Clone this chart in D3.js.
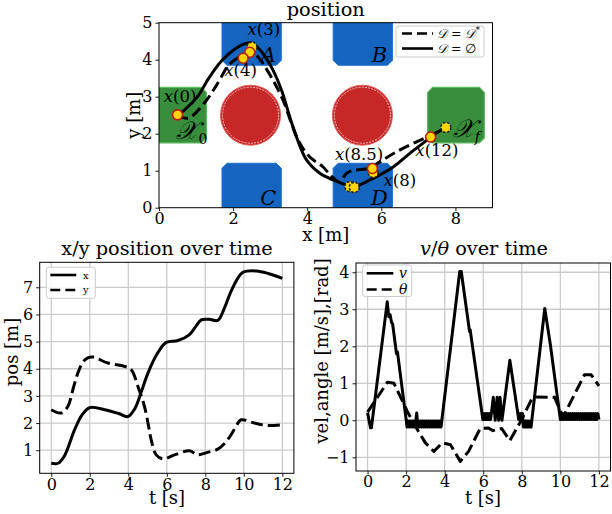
<!DOCTYPE html>
<html><head><meta charset="utf-8">
<script src="https://cdn.jsdelivr.net/npm/d3@7/dist/d3.min.js"></script>
<style>
body{margin:0;background:#fff}
svg{display:block}
text{font-family:"DejaVu Serif",serif;fill:#000}
</style>
</head><body>
<script>
// ---------------- DATA ----------------
// top plot: obstacles and goal regions (data units, m)
const blueRegions = [
  {name:"A", x0:1.7, x1:3.3, y0:3.85, y1:5.3},
  {name:"B", x0:4.7, x1:6.3, y0:3.85, y1:5.3},
  {name:"C", x0:1.7, x1:3.3, y0:-0.3, y1:1.2},
  {name:"D", x0:4.7, x1:6.3, y0:-0.3, y1:1.2}
];
const greenRegions = [
  {name:"X0", x0:-0.3, x1:1.28, y0:1.75, y1:3.25},
  {name:"Xf", x0:7.25, x1:8.78, y0:1.75, y1:3.25}
];
const redCircles = [{cx:2.47, cy:2.5, r:0.81}, {cx:5.49, cy:2.5, r:0.81}];

// trajectories
const trajEmpty = [ // D = ∅ (solid)
  [0.5,2.5],[0.7,2.65],[1.06,3.03],[1.33,3.48],[1.69,3.97],[2.05,4.29],[2.35,4.44],[2.52,4.45],
  [2.81,4.16],[3.08,3.71],[3.31,3.17],[3.53,2.45],[3.71,1.91],[3.98,1.29],[4.34,0.93],[4.7,0.75],
  [5.06,0.61],[5.22,0.56],[5.51,0.66],[5.87,0.84],[6.32,1.1],[6.77,1.47],[7.22,1.82],[7.33,1.92],[7.75,2.17]
];
const trajStar = [ // D = D* (dashed)
  [0.5,2.5],[0.79,2.42],[1.24,2.85],[1.6,3.39],[1.87,3.84],[2.14,4.06],[2.32,4.14],[2.5,4.22],
  [2.65,4.1],[2.81,3.89],[3.08,3.44],[3.35,2.9],[3.58,2.27],[3.8,1.74],[4.07,1.37],[4.43,1.1],
  [4.64,0.86],[4.86,0.7],[4.96,0.8],[5.06,0.93],[5.2,1.0],[5.42,1.03],[5.73,1.08],[5.9,1.2],
  [6.41,1.51],[6.95,1.78],[7.33,1.95],[7.75,2.18]
];
const markers = [
  {x:0.5, y:2.51, edge:"solid"}, {x:2.51, y:4.34, edge:"dashed"}, {x:2.45, y:4.2, edge:"solid"},
  {x:2.27, y:4.04, edge:"solid"}, {x:5.15, y:0.57, edge:"dashed"}, {x:5.27, y:0.55, edge:"dashed"},
  {x:5.78, y:0.95, edge:"dashed"}, {x:5.76, y:1.06, edge:"solid"}, {x:7.33, y:1.91, edge:"solid"},
  {x:7.74, y:2.17, edge:"dashed"}
];
const timeLabels = [
  {t:"0", x:0.57, y:2.85}, {t:"3", x:2.83, y:4.67}, {t:"4", x:2.2, y:3.56},
  {t:"8.5", x:5.4, y:1.28}, {t:"8", x:6.5, y:0.6}, {t:"12", x:7.5, y:1.4}
];
const topXTicks = [0,2,4,6,8];
const topYTicks = [0,1,2,3,4,5];

// bottom-left: x/y position over time
const xPos = [[0,0.52],[0.35,0.52],[0.69,0.8],[1.21,1.75],[1.6,2.3],[2.0,2.57],[2.77,2.49],[3.5,2.35],[3.98,2.24],
  [4.33,2.52],[4.7,3.2],[5.02,3.84],[5.5,4.55],[5.97,4.97],[6.58,5.04],[7.18,5.26],[7.5,5.55],[7.79,5.8],[8.2,5.82],
  [8.65,5.78],[9.0,6.25],[9.34,6.86],[9.7,7.35],[9.95,7.55],[10.66,7.6],[11.3,7.5],[12.0,7.33]];
const yPos = [[0,2.49],[0.52,2.37],[0.86,2.61],[1.15,3.3],[1.38,3.84],[1.65,4.25],[1.9,4.4],[2.16,4.43],[2.94,4.21],
  [3.8,4.09],[4.15,3.97],[4.5,3.35],[4.84,2.61],[5.05,1.9],[5.19,1.38],[5.45,0.83],[5.8,0.68],[6.4,0.83],[7.18,0.98],
  [7.6,0.83],[8.1,0.92],[8.65,1.04],[9.0,1.25],[9.34,1.57],[9.65,1.95],[9.86,2.12],[10.55,2.0],[11.25,1.91],[12.0,1.94]];
const leftXTicks = [0,2,4,6,8,10,12];
const leftYTicks = [1,2,3,4,5,6,7];

// bottom-right: v / theta over time (v chatters between ~0 and ±0.18 while stopped)
const vel = [[0,0.2],[0.15,-0.2],[0.2,-0.2],[1.02,3.2],[1.1,2.8],[1.17,2.85],[1.24,2.65],[1.3,2.6],[1.45,2.0],[1.5,1.8],[1.55,1.85],
  [2.01,-0.02],[2.05,-0.18],[2.1,-0.02],[2.15,-0.18],[2.2,-0.02],[2.25,-0.18],[2.3,-0.02],[2.35,-0.18],[2.4,-0.02],[2.45,-0.18],
  [2.5,-0.02],[2.55,0.2],[2.6,-0.18],[2.65,-0.02],[2.7,-0.18],[2.75,-0.02],[2.8,-0.18],[2.85,-0.02],[2.9,-0.18],[2.95,-0.02],
  [3.0,-0.18],[3.05,-0.02],[3.1,-0.18],[3.15,-0.02],[3.2,-0.18],[3.25,-0.02],[3.3,-0.18],[3.35,-0.02],[3.4,-0.18],[3.45,-0.02],
  [3.5,-0.18],[3.55,-0.02],[3.6,-0.18],[3.65,-0.02],[3.7,-0.18],[3.75,-0.02],[3.81,-0.18],
  [4.78,4.02],[4.86,4.02],[5.24,2.58],[5.29,2.4],[5.32,2.45],[5.98,0.02],
  [6.02,0.18],[6.06,0.02],[6.1,0.18],[6.14,0.02],[6.18,0.18],[6.22,0.02],[6.26,0.18],[6.3,0.02],[6.34,0.18],[6.38,0.02],[6.42,0.18],
  [6.52,0.62],[6.62,0],[6.72,0.62],[6.8,0],[6.87,0.62],[6.97,0],[7.38,1.62],[7.84,0.02],
  [7.88,0.18],[7.92,0.02],[7.96,0.18],[8.0,0.02],[8.04,0.18],[8.08,-0.18],[8.12,-0.02],[8.16,-0.18],[8.2,-0.02],[8.24,-0.18],
  [8.28,-0.02],[8.32,-0.18],[8.36,-0.02],[8.4,-0.18],[8.44,-0.02],[8.48,-0.18],[8.52,0],
  [9.19,3.02],[9.48,2.05],[9.53,1.85],[10.0,0.02],
  [10.05,0.18],[10.1,0.02],[10.15,0.18],[10.2,0.02],[10.25,0.18],[10.3,0.02],[10.35,0.18],[10.4,0.02],[10.45,0.18],[10.5,0.02],
  [10.55,0.18],[10.6,0.02],[10.65,0.18],[10.7,0.02],[10.75,0.18],[10.8,0.02],[10.85,0.18],[10.9,0.02],[10.95,0.18],[11.0,0.02],
  [11.05,0.18],[11.1,0.02],[11.15,0.18],[11.2,0.02],[11.25,0.18],[11.3,0.02],[11.35,0.18],[11.4,0.02],[11.45,0.18],[11.5,0.02],
  [11.55,0.18],[11.6,0.02],[11.65,0.18],[11.7,0.02],[11.75,0.18],[11.8,0.02],[11.85,0.18],[11.9,0.02],[11.95,0.18],[12.0,0.02]];
const theta = [[0,0.22],[1.03,1.03],[1.37,1.0],[2.06,0.24],[2.58,-0.25],[3.0,-0.61],[3.44,-0.84],[3.87,-0.61],[4.3,-0.66],
  [4.81,-1.11],[5.24,-0.84],[5.84,-0.22],[6.27,-0.21],[6.5,-0.28],[6.79,-0.24],[6.95,-0.22],[7.38,-0.55],[7.95,-0.02],
  [8.5,0.56],[8.7,0.63],[9.7,0.62],[10.05,0.2],[10.15,0.1],[11.25,1.23],[11.6,1.23],[12.0,0.93]];
const rightXTicks = [0,2,4,6,8,10,12];
const rightYTicks = [-1,0,1,2,3,4];

// ---------------- DRAW ----------------
const W = 612, H = 514;
const svg = d3.select("body").append("svg").attr("width", W).attr("height", H);
const TICKFS = 16, LABFS = 18, TITLEFS = 19.3;

function styleAxis(g){
  g.select(".domain").remove();
  g.selectAll(".tick line").attr("stroke","#000").attr("stroke-width",0.9);
  g.selectAll(".tick text").style("font-size",TICKFS+"px").style("font-family",'"DejaVu Serif",serif').attr("fill","#000");
}

// ===== Top plot =====
const tx = d3.scaleLinear().domain([0,9]).range([159,492.5]);
const ty = d3.scaleLinear().domain([0,5]).range([207.7,22.7]);
svg.append("clipPath").attr("id","clipTop").append("rect")
  .attr("x",tx(0)).attr("y",ty(5)).attr("width",tx(9)-tx(0)).attr("height",ty(0)-ty(5));
const topG = svg.append("g");
const topPlot = topG.append("g").attr("clip-path","url(#clipTop)");

function chamferPath(d, c){
  const x0 = tx(d.x0), x1 = tx(d.x1), y0 = ty(d.y1), y1 = ty(d.y0);
  return `M${x0+c},${y0}L${x1-c},${y0}L${x1},${y0+c}L${x1},${y1-c}L${x1-c},${y1}L${x0+c},${y1}L${x0},${y1-c}L${x0},${y0+c}Z`;
}
topPlot.selectAll(".blue").data(blueRegions).join("path")
  .attr("d", d => chamferPath(d, 5)).attr("fill","#1565c0").attr("stroke","#1e6fd0").attr("stroke-width",1);
topPlot.selectAll(".green").data(greenRegions).join("path")
  .attr("d", d => chamferPath(d, 5)).attr("fill","#388e3c").attr("stroke","#5cb860").attr("stroke-width",1.2);
topPlot.selectAll(".red").data(redCircles).join("circle")
  .attr("cx", d => tx(d.cx)).attr("cy", d => ty(d.cy)).attr("r", d => tx(d.r) - tx(0))
  .attr("fill","#c62828").attr("stroke","#e06060").attr("stroke-width",1);
topPlot.selectAll(".redring").data(redCircles).join("circle")
  .attr("cx", d => tx(d.cx)).attr("cy", d => ty(d.cy)).attr("r", d => tx(d.r) - tx(0) - 2)
  .attr("fill","none").attr("stroke","#fff").attr("stroke-width",0.8).attr("stroke-dasharray","2,1.2").attr("opacity",0.85);

const lineTop = d3.line().x(d => tx(d[0])).y(d => ty(d[1])).curve(d3.curveCatmullRom.alpha(0.5));
topPlot.append("path").attr("d", lineTop(trajEmpty)).attr("fill","none").attr("stroke","#000").attr("stroke-width",3);
topPlot.append("path").attr("d", lineTop(trajStar)).attr("fill","none").attr("stroke","#000").attr("stroke-width",3)
  .attr("stroke-dasharray","11,5");

topPlot.selectAll(".mk").data(markers).join("circle")
  .attr("cx", d => tx(d.x)).attr("cy", d => ty(d.y)).attr("r",5)
  .attr("fill","#ffd600")
  .attr("stroke", d => d.edge === "solid" ? "#b71c1c" : "#222")
  .attr("stroke-width", 1.6)
  .attr("stroke-dasharray", d => d.edge === "solid" ? null : "2.5,1.5");

// region labels
blueRegions.forEach(d => {
  const lx = d.name === "A" || d.name === "C" ? 2.95 : 5.95;
  const ly = d.y0 > 2 ? 3.88 : 0.02;
  topG.append("text").attr("x", tx(lx)).attr("y", ty(ly) - 2).attr("text-anchor","middle")
    .style("font-size","21px").style("font-style","italic").text(d.name);
});
function calX(x, y, sub){
  const t = topG.append("text").attr("x", tx(x)).attr("y", ty(y)).style("font-size","25px");
  t.append("tspan").style("font-style","italic").text("𝒳");
  t.append("tspan").attr("dy",5).style("font-size","14px").style("font-style", sub === "f" ? "italic" : "normal").text(sub);
}
calX(0.47, 1.85, "0");
calX(7.93, 1.9, "f");
timeLabels.forEach(d => {
  const t = topG.append("text").attr("x", tx(d.x)).attr("y", ty(d.y)).attr("text-anchor","middle").style("font-size","16.5px");
  t.append("tspan").style("font-style","italic").text("x");
  t.append("tspan").text("(" + d.t + ")");
});

// frame and axes
topG.append("rect").attr("x",tx(0)).attr("y",ty(5)).attr("width",tx(9)-tx(0)).attr("height",ty(0)-ty(5))
  .attr("fill","none").attr("stroke","#000").attr("stroke-width",1);
topG.append("g").attr("transform",`translate(0,${ty(0)})`)
  .call(d3.axisBottom(tx).tickValues(topXTicks).tickSize(3.5).tickPadding(1.5).tickFormat(d3.format("d"))).call(styleAxis);
topG.append("g").attr("transform",`translate(${tx(0)},0)`)
  .call(d3.axisLeft(ty).tickValues(topYTicks).tickSize(3.5).tickPadding(3).tickFormat(d3.format("d"))).call(styleAxis);
topG.append("text").attr("x",(tx(0)+tx(9))/2).attr("y",15.5).attr("text-anchor","middle").style("font-size",TITLEFS+"px").text("position");
topG.append("text").attr("x",(tx(0)+tx(9))/2).attr("y",240.5).attr("text-anchor","middle").style("font-size",LABFS+"px").text("x [m]");
topG.append("text").attr("transform",`translate(140,${(ty(0)+ty(5))/2}) rotate(-90)`).attr("text-anchor","middle")
  .style("font-size",LABFS+"px").text("y [m]");

// top legend
const lg = topG.append("g");
lg.append("rect").attr("x",396).attr("y",26).attr("width",88).attr("height",31).attr("rx",2.5)
  .attr("fill","#fff").attr("fill-opacity",0.85).attr("stroke","#cccccc").attr("stroke-width",1);
lg.append("line").attr("x1",402).attr("x2",433).attr("y1",33.5).attr("y2",33.5).attr("stroke","#000").attr("stroke-width",2.6).attr("stroke-dasharray","10,5");
lg.append("line").attr("x1",402).attr("x2",433).attr("y1",48.5).attr("y2",48.5).attr("stroke","#000").attr("stroke-width",2.6);
const lt1 = lg.append("text").attr("x",437).attr("y",38).style("font-size","12.5px");
lt1.append("tspan").style("font-style","italic").text("𝒟");
lt1.append("tspan").text(" = ");
lt1.append("tspan").style("font-style","italic").text("𝒟");
lt1.append("tspan").attr("dy",-5).style("font-size","9px").text("*");
const lt2 = lg.append("text").attr("x",437).attr("y",53).style("font-size","12.5px");
lt2.append("tspan").style("font-style","italic").text("𝒟");
lt2.append("tspan").text(" = ∅");

// ===== Bottom panels =====
function panel(opts){
  const g = svg.append("g");
  const x = d3.scaleLinear().domain(opts.xd).range(opts.xr);
  const y = d3.scaleLinear().domain(opts.yd).range(opts.yr);
  g.selectAll(".gx").data(opts.xt).join("line").attr("x1",d=>x(d)).attr("x2",d=>x(d)).attr("y1",opts.yr[0]).attr("y2",opts.yr[1])
    .attr("stroke","#cbcbcb").attr("stroke-width",1.3);
  g.selectAll(".gy").data(opts.yt).join("line").attr("y1",d=>y(d)).attr("y2",d=>y(d)).attr("x1",opts.xr[0]).attr("x2",opts.xr[1])
    .attr("stroke","#cbcbcb").attr("stroke-width",1.3);
  const cid = "clip" + opts.id;
  svg.append("clipPath").attr("id",cid).append("rect").attr("x",opts.xr[0]).attr("y",opts.yr[1])
    .attr("width",opts.xr[1]-opts.xr[0]).attr("height",opts.yr[0]-opts.yr[1]);
  const pg = g.append("g").attr("clip-path",`url(#${cid})`);
  opts.series.forEach(s => {
    const ln = d3.line().x(d=>x(d[0])).y(d=>y(d[1])).curve(s.curve);
    pg.append("path").attr("d", ln(s.data)).attr("fill","none").attr("stroke","#000")
      .attr("stroke-width",3).attr("stroke-linejoin","round").attr("stroke-dasharray", s.dash || null);
  });
  g.append("rect").attr("x",opts.xr[0]).attr("y",opts.yr[1]).attr("width",opts.xr[1]-opts.xr[0]).attr("height",opts.yr[0]-opts.yr[1])
    .attr("fill","none").attr("stroke","#000").attr("stroke-width",1);
  g.append("g").attr("transform",`translate(0,${opts.yr[0]})`)
    .call(d3.axisBottom(x).tickValues(opts.xt).tickSize(3.5).tickPadding(1.5).tickFormat(d3.format("d"))).call(styleAxis);
  g.append("g").attr("transform",`translate(${opts.xr[0]},0)`)
    .call(d3.axisLeft(y).tickValues(opts.yt).tickSize(3.5).tickPadding(3).tickFormat(d3.format("d"))).call(styleAxis);
  return {g, x, y};
}

const L = panel({id:"L", xd:[-0.6,12.6], xr:[39.7,293.9], yd:[0.15,7.92], yr:[473.3,262.3], xt:leftXTicks, yt:leftYTicks,
  series:[{data:xPos, curve:d3.curveCatmullRom.alpha(0.5)}, {data:yPos, curve:d3.curveCatmullRom.alpha(0.5), dash:"12,5"}]});
L.g.append("text").attr("x",167).attr("y",255).attr("text-anchor","middle").style("font-size",TITLEFS+"px").text("x/y position over time");
L.g.append("text").attr("x",167).attr("y",504).attr("text-anchor","middle").style("font-size",LABFS+"px").text("t [s]");
L.g.append("text").attr("transform","translate(18,352) rotate(-90)").attr("text-anchor","middle").style("font-size",LABFS+"px").text("pos [m]");
const lgL = L.g.append("g");
lgL.append("rect").attr("x",46.3).attr("y",267.3).attr("width",49).attr("height",31).attr("rx",2.5)
  .attr("fill","#fff").attr("fill-opacity",0.85).attr("stroke","#cccccc");
lgL.append("line").attr("x1",50.3).attr("x2",76.3).attr("y1",275).attr("y2",275).attr("stroke","#000").attr("stroke-width",2.6);
lgL.append("line").attr("x1",50.3).attr("x2",76.3).attr("y1",290).attr("y2",290).attr("stroke","#000").attr("stroke-width",2.6).attr("stroke-dasharray","10,5");
lgL.append("text").attr("x",83).attr("y",278.5).style("font-size","10px").text("x");
lgL.append("text").attr("x",83).attr("y",292.5).style("font-size","10px").text("y");

const R = panel({id:"R", xd:[-0.6,12.6], xr:[356,610.5], yd:[-1.37,4.25], yr:[471,263], xt:rightXTicks, yt:rightYTicks,
  series:[{data:vel, curve:d3.curveLinear}, {data:theta, curve:d3.curveLinear, dash:"12,5"}]});
const rt = R.g.append("text").attr("x",484).attr("y",255).attr("text-anchor","middle").style("font-size",TITLEFS+"px");
rt.append("tspan").style("font-style","italic").text("v");
rt.append("tspan").text("/");
rt.append("tspan").style("font-style","italic").text("θ");
rt.append("tspan").text(" over time");
R.g.append("text").attr("x",483).attr("y",504).attr("text-anchor","middle").style("font-size",LABFS+"px").text("t [s]");
R.g.append("text").attr("transform","translate(328,351) rotate(-90)").attr("text-anchor","middle").style("font-size",LABFS+"px").text("vel,angle [m/s],[rad]");
const lgR = R.g.append("g");
lgR.append("rect").attr("x",362.7).attr("y",265).attr("width",49).attr("height",31.5).attr("rx",2.5)
  .attr("fill","#fff").attr("fill-opacity",0.85).attr("stroke","#cccccc");
lgR.append("line").attr("x1",366.7).attr("x2",393.3).attr("y1",273.3).attr("y2",273.3).attr("stroke","#000").attr("stroke-width",2.6);
lgR.append("line").attr("x1",366.7).attr("x2",393.3).attr("y1",289.5).attr("y2",289.5).attr("stroke","#000").attr("stroke-width",2.6).attr("stroke-dasharray","10,5");
lgR.append("text").attr("x",399).attr("y",277.5).style("font-size","14px").style("font-style","italic").text("v");
lgR.append("text").attr("x",399).attr("y",294).style("font-size","14px").style("font-style","italic").text("θ");
</script>
</body></html>
